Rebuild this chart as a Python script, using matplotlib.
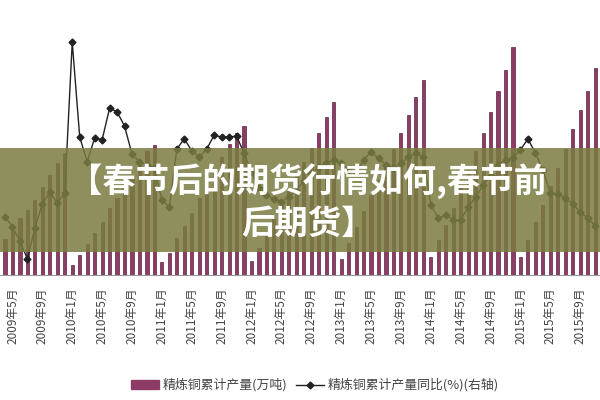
import numpy as np
import matplotlib
matplotlib.use('Agg')
import matplotlib.pyplot as plt
from matplotlib.patches import Rectangle

plt.rcParams['font.family'] = ['Noto Sans CJK SC', 'DejaVu Sans']

# 精炼铜累计产量(万吨), monthly from 2009-04 to 2015-11
output = [
    131, 175, 207, 236, 273, 320, 364, 407, 444,
    36, 73, 113, 153, 193, 244, 280, 316, 356, 407, 451, 473,
    47, 80, 135, 178, 225, 280, 320, 375, 429, 476, 516, 542,
    51, 98, 149, 204, 255, 305, 360, 411, 462, 516, 575, 629,
    58, 116, 175, 233, 291, 345, 404, 458, 516, 582, 647, 709,
    65, 127, 182, 244, 316, 382, 451, 516, 593, 669, 745, 829,
    65, 127, 193, 255, 324, 389, 458, 531, 600, 669, 753,
]
# 精炼铜累计产量同比(%)
yoy = [
    2.7, 0.5, -2.6, -6.5, 0.3, 5.5, 8.1, 5.7, 7.9,
    40.8, 20.1, 14.7, 19.9, 19.5, 26.4, 25.6, 22.5, 16.4, 14.7, 14.0, 13.3,
    6.4, 4.8, 17.5, 19.7, 17.1, 15.7, 17.5, 20.5, 20.1, 20.1, 20.3, 16.6,
    12.5, 9.0, 7.5, 6.5, 6.0, 7.0, 8.5, 10.5, 12.0, 13.5, 14.5, 15.0,
    14.4, 12.9, 12.5, 15.1, 16.8, 15.5, 14.0, 13.3, 14.4, 15.7, 16.6, 15.7,
    5.3, 2.4, 3.1, 2.0, 2.0, 4.8, 7.0, 9.6, 11.8, 14.0, 15.1, 15.5,
    17.3, 19.7, 16.6, 12.9, 7.9, 7.7, 6.8, 5.5, 3.7, 2.4, 0.7,
]
tick_labels = [
    '2009年5月', '2009年9月', '2010年1月', '2010年5月', '2010年9月',
    '2011年1月', '2011年5月', '2011年9月', '2012年1月', '2012年5月',
    '2012年9月', '2013年1月', '2013年5月', '2013年9月', '2014年1月',
    '2014年5月', '2014年9月', '2015年1月', '2015年5月', '2015年9月',
]
banner_lines = ['【春节后的期货行情如何,春节前', '后期货】']

x = np.arange(len(output))

fig = plt.figure(figsize=(6, 4), dpi=100)
ax = fig.add_axes([0, 0.3125, 1, 0.6875])
ax.bar(x, output, width=0.42, color='#8e3b66', edgecolor='#5c2243', linewidth=0.5)
ax.set_ylim(0, 1000)
ax.set_xlim(-0.67, 79.65)
ax.set_yticks([])
ax.set_xticks(x[1::4])
ax.set_xticklabels(tick_labels, rotation=90, fontsize=8.5, color='#444444')
ax.tick_params(axis='x', length=0, pad=9)
for s in ['top', 'left', 'right']:
    ax.spines[s].set_visible(False)
ax.spines['bottom'].set_color('#999999')

ax2 = ax.twinx()
ax2.plot(x, yoy, color='#222222', lw=1, marker='D', markersize=3.5)
ax2.set_ylim(-10, 50)
ax2.set_yticks([])
for s in ['top', 'left', 'right', 'bottom']:
    ax2.spines[s].set_visible(False)

# legend
h1 = Rectangle((0, 0), 1, 1, color='#8e3b66')
h2 = ax2.get_lines()[0]
fig.legend([h1, h2], ['精炼铜累计产量(万吨)', '精炼铜累计产量同比(%)(右轴)'],
           loc='center', bbox_to_anchor=(0.525, 0.037), ncol=2, frameon=False,
           fontsize=9.3, labelcolor='#444444', handlelength=2.2, columnspacing=0.6, handletextpad=0.3)

# overlay banner
fig.patches.append(Rectangle((0, 0.37), 1, 0.26, transform=fig.transFigure,
                             facecolor='#7a7c40', alpha=0.85, zorder=10))
fig.text(0.513, 0.5475, banner_lines[0], ha='center', va='center', fontsize=24,
         fontweight='bold', color='white', zorder=11)
fig.text(0.513, 0.44, banner_lines[1], ha='center', va='center', fontsize=24,
         fontweight='bold', color='white', zorder=11)

fig.savefig('out.png', dpi=100)
